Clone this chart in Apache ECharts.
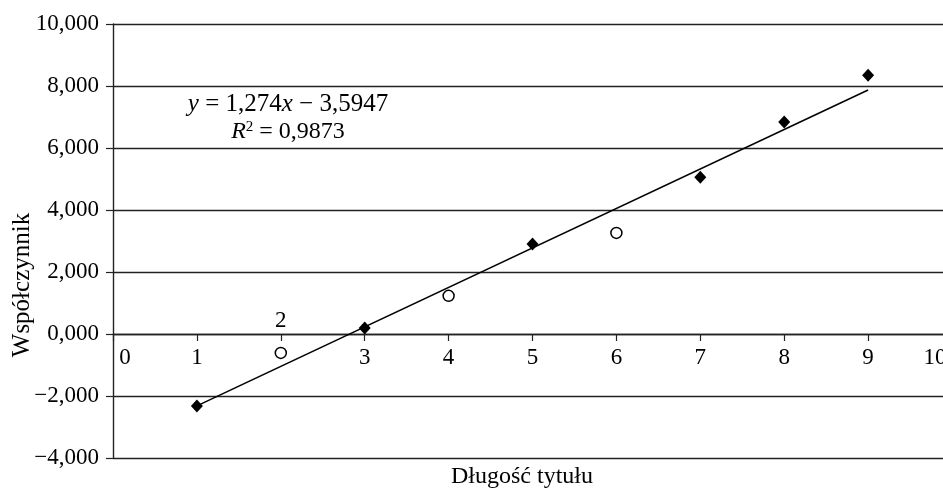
<!DOCTYPE html>
<html>
<head>
<meta charset="utf-8">
<script src="https://cdn.jsdelivr.net/npm/echarts@6/dist/echarts.min.js"></script>
<style>
html,body{margin:0;padding:0;background:#fff;}
#chart{width:943px;height:488px;}
</style>
</head>
<body>
<div id="chart"></div>
<script>
// Data
const xDiamond = [1, 3, 5, 7, 8, 9];
const yDiamond = [-2.32, 0.19, 2.90, 5.06, 6.84, 8.35];
const xCircle = [2, 4, 6];
const yCircle = [-0.61, 1.23, 3.26];
const trendX = [1, 9];
const trendY = [-2.32, 7.87];
const yAxisMin = -4, yAxisMax = 10, yStep = 2;
const xAxisMin = 0, xAxisMax = 10;
const yTitle = 'Współczynnik';
const xTitle = 'Długość tytułu';

const FONT = '"Liberation Serif", "DejaVu Serif", serif';
const INK = '#000';

const GRID_TOP = 24, GRID_BOTTOM = 30, H = 488;
const gridH = H - GRID_TOP - GRID_BOTTOM;
// place the x axis where y = 0 lies inside the grid
const zeroOffset = -gridH * (0 - yAxisMin) / (yAxisMax - yAxisMin);

function fmtY(v) {
  const s = Math.abs(v).toFixed(3).replace('.', ',');
  return (v < 0 ? '−' : '') + s;
}

const chart = echarts.init(document.getElementById('chart'));
chart.setOption({
  animation: false,
  backgroundColor: '#fff',
  grid: { left: 113, top: GRID_TOP, bottom: GRID_BOTTOM, right: -9, containLabel: false, outerBoundsMode: 'none' },
  xAxis: {
    type: 'value', min: xAxisMin, max: xAxisMax, interval: 1, position: 'bottom', offset: zeroOffset,
    axisLine: { onZero: false, lineStyle: { color: '#222', width: 1.4 } },
    axisTick: { show: true, length: 7, inside: false, lineStyle: { color: '#222', width: 1.2 } },
    splitLine: { show: false },
    axisLabel: {
      margin: 12, color: INK, fontFamily: FONT, fontSize: 23, showMinLabel: true, showMaxLabel: true,
      hideOverlap: false,
      formatter: function (v) {
        if (v === 0) return '{l|0}';
        if (v === 2) return '';
        if (v === 10) return '{r|10}';
        return String(v);
      },
      rich: {
        l: { fontFamily: FONT, fontSize: 23, color: INK, padding: [0, 0, 0, 24] },
        r: { fontFamily: FONT, fontSize: 23, color: INK, padding: [0, 34, 0, 0] }
      }
    }
  },
  yAxis: {
    type: 'value', min: yAxisMin, max: yAxisMax, interval: yStep,
    axisLine: { show: true, onZero: false, lineStyle: { color: '#222', width: 1.4 } },
    axisTick: { show: true, length: 7, lineStyle: { color: '#222', width: 1.2 } },
    splitLine: { show: true, lineStyle: { color: '#222', width: 1.4 } },
    axisLabel: { margin: 14, color: INK, fontFamily: FONT, fontSize: 23, formatter: fmtY }
  },
  graphic: [
    {
      type: 'text', x: 22, y: 285, rotation: Math.PI / 2,
      style: { text: yTitle, font: '25px ' + FONT, fill: INK, align: 'center', verticalAlign: 'middle' }
    },
    {
      type: 'text', x: 522, y: 477,
      style: { text: xTitle, font: '24px ' + FONT, fill: INK, align: 'center', verticalAlign: 'middle' }
    },
    {
      type: 'text', x: 288, y: 104,
      style: {
        text: '{i|y} = 1,274{i|x} − 3,5947',
        font: '25px ' + FONT, fill: INK, align: 'center', verticalAlign: 'middle',
        rich: { i: { fontFamily: FONT, fontSize: 25, fontStyle: 'italic', fill: INK } }
      }
    },
    {
      type: 'text', x: 288, y: 132,
      style: {
        text: '{i|R}{s|2} = 0,9873',
        font: '24px ' + FONT, fill: INK, align: 'center', verticalAlign: 'middle',
        rich: {
          i: { fontFamily: FONT, fontSize: 24, fontStyle: 'italic', fill: INK },
          s: { fontFamily: FONT, fontSize: 15, fill: INK, verticalAlign: 'top', padding: [0, 0, 10, 0] }
        }
      }
    }
  ],
  series: [
    {
      type: 'line', data: trendX.map((x, i) => [x, trendY[i]]),
      symbol: 'none', lineStyle: { color: INK, width: 1.5 }, z: 3, silent: true
    },
    {
      type: 'scatter', data: xDiamond.map((x, i) => [x, yDiamond[i]]),
      symbol: 'diamond', symbolSize: [12, 13], itemStyle: { color: INK, opacity: 1 }, z: 5
    },
    {
      type: 'scatter', data: xCircle.map((x, i) => [x, yCircle[i]]),
      symbol: 'circle', symbolSize: 11,
      itemStyle: { color: '#fff', borderColor: INK, borderWidth: 1.5, opacity: 1 }, z: 5
    },
    {
      type: 'scatter', data: [[2, 0]], symbolSize: 0, silent: true,
      itemStyle: { opacity: 1, color: INK },
      label: { show: true, position: 'top', distance: 2, formatter: '2', color: INK, opacity: 1, fontFamily: FONT, fontSize: 23 }
    }
  ]
});
</script>
</body>
</html>
